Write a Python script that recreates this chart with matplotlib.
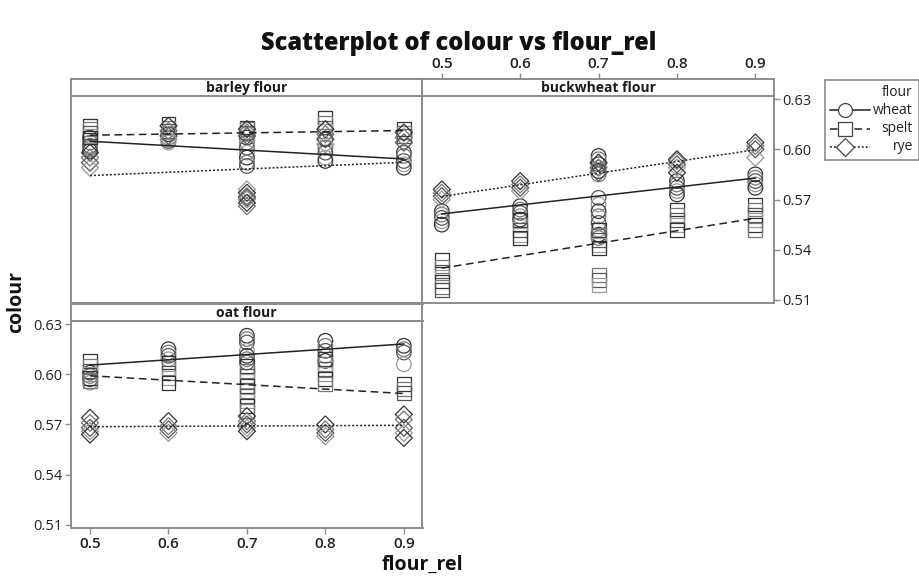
import numpy as np
import matplotlib
matplotlib.use('Agg')
import matplotlib.pyplot as plt

plt.rcParams['font.family'] = ['Open Sans', 'DejaVu Sans']

flour_rel = [0.5, 0.6, 0.7, 0.8, 0.9]
flours = ['wheat', 'spelt', 'rye']
yticks = [0.51, 0.54, 0.57, 0.60, 0.63]

# colour readings, one list per flour_rel level
barley_wheat = [[0.607, 0.604, 0.602, 0.600, 0.599, 0.601],
                [0.609, 0.607, 0.605, 0.604],
                [0.607, 0.604, 0.601, 0.598, 0.595, 0.592, 0.590],
                [0.606, 0.601, 0.598, 0.595, 0.593],
                [0.598, 0.596, 0.593, 0.591, 0.589]]
barley_spelt = [[0.614, 0.612, 0.610, 0.608, 0.607],
                [0.615, 0.613, 0.611, 0.610],
                [0.613, 0.612, 0.610, 0.609],
                [0.619, 0.616, 0.613, 0.611],
                [0.612, 0.610, 0.608]]
barley_rye = [[0.598, 0.595, 0.592, 0.589],
              [0.614, 0.611, 0.608, 0.606],
              [0.612, 0.610, 0.608, 0.576, 0.574, 0.572, 0.571, 0.570, 0.568, 0.566],
              [0.612, 0.609, 0.606, 0.603],
              [0.610, 0.607, 0.604]]

buck_wheat = [[0.563, 0.561, 0.559, 0.557, 0.555],
              [0.566, 0.564, 0.562, 0.560, 0.558],
              [0.596, 0.594, 0.591, 0.589, 0.587, 0.585, 0.571, 0.567, 0.563, 0.560, 0.556, 0.552, 0.549, 0.547],
              [0.581, 0.579, 0.577, 0.575, 0.573],
              [0.585, 0.583, 0.581, 0.579, 0.577]]
buck_spelt = [[0.534, 0.530, 0.527, 0.524, 0.521, 0.518, 0.516],
              [0.558, 0.555, 0.552, 0.549, 0.547],
              [0.552, 0.549, 0.546, 0.543, 0.541, 0.525, 0.522, 0.519],
              [0.564, 0.561, 0.558, 0.555, 0.552],
              [0.567, 0.564, 0.561, 0.558, 0.555, 0.552]]
buck_rye = [[0.576, 0.574, 0.572, 0.570],
            [0.581, 0.579, 0.577, 0.575],
            [0.592, 0.589, 0.586],
            [0.594, 0.593, 0.591, 0.589, 0.586],
            [0.604, 0.602, 0.600, 0.595]]

oat_wheat = [[0.601, 0.599, 0.597, 0.595],
             [0.615, 0.613, 0.611, 0.609],
             [0.623, 0.621, 0.619, 0.614, 0.611, 0.609, 0.607],
             [0.620, 0.617, 0.614, 0.611, 0.608],
             [0.617, 0.615, 0.613, 0.606]]
oat_spelt = [[0.608, 0.605, 0.602, 0.600, 0.598, 0.596],
             [0.607, 0.604, 0.601, 0.598, 0.595],
             [0.605, 0.602, 0.599, 0.596, 0.593, 0.590, 0.587, 0.584, 0.581, 0.578],
             [0.609, 0.606, 0.603, 0.600, 0.597, 0.594],
             [0.594, 0.591, 0.589]]
oat_rye = [[0.574, 0.571, 0.568, 0.566, 0.564],
           [0.572, 0.569, 0.567, 0.565],
           [0.575, 0.572, 0.570, 0.568, 0.566],
           [0.570, 0.567, 0.565, 0.563],
           [0.576, 0.573, 0.568, 0.565, 0.562]]

# fitted line values at flour_rel 0.5 and 0.9
barley_fit = {'wheat': [0.6048, 0.5942], 'spelt': [0.6084, 0.6112], 'rye': [0.5843, 0.5922]}
buck_fit = {'wheat': [0.5614, 0.5828], 'spelt': [0.5290, 0.5588], 'rye': [0.5718, 0.5997]}
oat_fit = {'wheat': [0.6055, 0.6181], 'spelt': [0.5991, 0.5885], 'rye': [0.5687, 0.5695]}

panels = {
    'barley flour': ({'wheat': barley_wheat, 'spelt': barley_spelt, 'rye': barley_rye}, barley_fit),
    'buckwheat flour': ({'wheat': buck_wheat, 'spelt': buck_spelt, 'rye': buck_rye}, buck_fit),
    'oat flour': ({'wheat': oat_wheat, 'spelt': oat_spelt, 'rye': oat_rye}, oat_fit),
}

markers = {'wheat': ('o', 110), 'spelt': ('s', 100), 'rye': ('D', 75)}
lstyle = {'wheat': '-', 'spelt': (0, (5, 3)), 'rye': (0, (1.3, 1.3))}
edges = ['#333333', '#777777', '#555555', '#999999']
frame = '#8c8c8c'

W, H = 920, 576
fig = plt.figure(figsize=(9.2, 5.76), dpi=100)

def px(x0, y0, x1, y1):
    return [x0 / W, 1 - y1 / H, (x1 - x0) / W, (y1 - y0) / H]

boxes = {'barley flour': (70.7, 422.5, 95.7, 303.3),
         'buckwheat flour': (422.5, 774, 95.7, 303.3),
         'oat flour': (70.7, 422.5, 320.7, 528.3)}

axes = {}
for name, (x0, x1, y0, y1) in boxes.items():
    ax = fig.add_axes(px(x0, y0, x1, y1))
    st = fig.add_axes(px(x0, y0 - 16.6, x1, y0))
    for a in (ax, st):
        for s in a.spines.values():
            s.set_color(frame)
            s.set_linewidth(1.4)
        a.set_xlim(0.4754, 0.9238)
        a.tick_params(direction='out', length=4, width=1, color=frame,
                      labelsize=10.5, labelcolor='#222222', pad=2)
    ax.set_ylim(0.508, 0.632)
    st.set_yticks([])
    st.set_xticks([])
    st.text(0.5, 0.45, name, transform=st.transAxes, ha='center', va='center',
            fontsize=10, fontweight='bold', color='#1a1a1a')
    ax.set_xticks(flour_rel)
    ax.set_xticklabels([str(v) for v in flour_rel], fontweight='semibold', fontsize=11)
    ax.set_yticks(yticks)
    ax.set_yticklabels(['%.2f' % v for v in yticks])
    axes[name] = (ax, st)

    pts, fits = panels[name]
    for f in flours:
        xs, ys, cs = [], [], []
        for xv, vals in zip(flour_rel, pts[f]):
            for i, v in enumerate(vals):
                xs.append(xv)
                ys.append(v)
                cs.append(edges[i % len(edges)])
        m, s = markers[f]
        ax.scatter(xs, ys, marker=m, s=s, facecolors='none', edgecolors=cs, linewidths=0.9, zorder=2)
        ax.plot([flour_rel[0], flour_rel[-1]], fits[f], color='#222222', ls=lstyle[f], lw=1.1, zorder=3)

ax, st = axes['barley flour']
ax.tick_params(left=False, bottom=False, labelleft=False, labelbottom=False)

ax, st = axes['buckwheat flour']
ax.tick_params(left=False, bottom=False, labelleft=False, labelbottom=False,
               right=True, labelright=True)
st.set_xticks(flour_rel)
st.set_xticklabels([str(v) for v in flour_rel], fontweight='semibold', fontsize=11)
st.tick_params(bottom=False, labelbottom=False, top=True, labeltop=True)

fig.text(459 / W, 1 - 44 / H, 'Scatterplot of colour vs flour_rel', ha='center', va='center',
         fontsize=17, fontweight='heavy', color='#111111')
fig.text(16 / W, 1 - 302 / H, 'colour', rotation=90, ha='center', va='center',
         fontsize=14, fontweight='bold', color='#111111')
fig.text(422 / W, 1 - 565 / H, 'flour_rel', ha='center', va='center',
         fontsize=14, fontweight='bold', color='#111111')

# legend box drawn in its own small axes (pixel units)
lax = fig.add_axes(px(825, 80, 919, 160))
lax.set_xlim(0, 94)
lax.set_ylim(80, 0)
lax.set_xticks([])
lax.set_yticks([])
for s in lax.spines.values():
    s.set_color(frame)
    s.set_linewidth(1.2)
lax.text(88, 13, 'flour', ha='right', va='center', fontsize=10, color='#222222')
leg_ms = {'wheat': 10, 'spelt': 9.5, 'rye': 9}
for k, f in enumerate(flours):
    yy = 30 + k * 18.5
    lax.plot([5, 45], [yy, yy], color='#222222', ls=lstyle[f], lw=1.1)
    lax.plot([20], [yy], marker=markers[f][0], ms=leg_ms[f], mfc='white', mec='#444444', mew=0.9)
    lax.text(88, yy, f, ha='right', va='center', fontsize=10, color='#222222')

fig.savefig('out.png', dpi=100)
